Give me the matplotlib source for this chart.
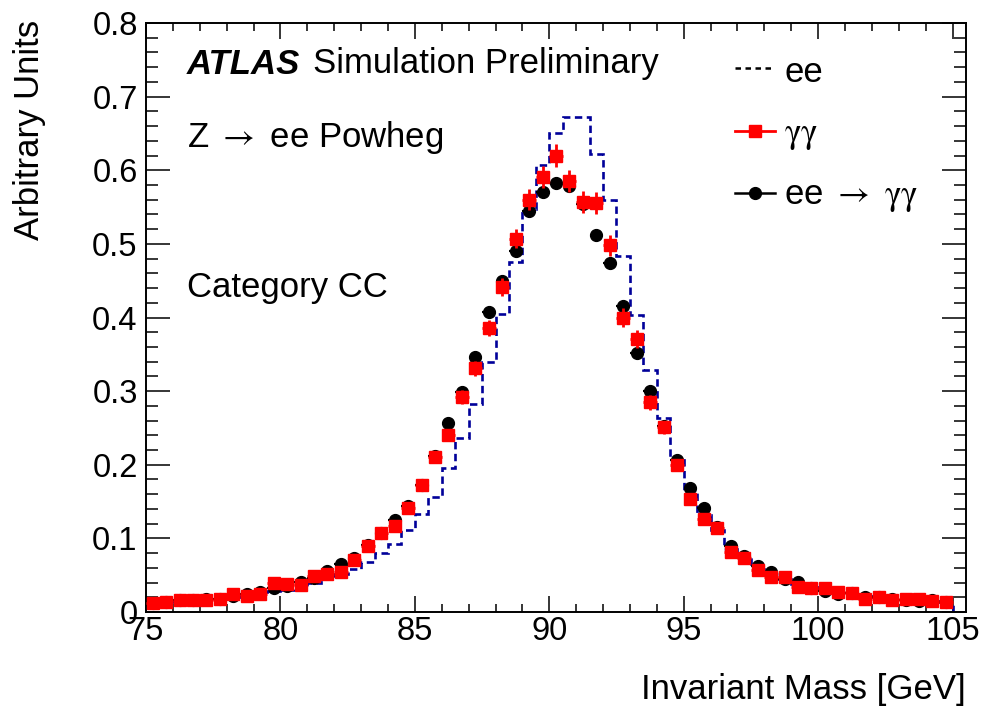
import numpy as np
import matplotlib
matplotlib.use("Agg")
import matplotlib.pyplot as plt
from matplotlib.ticker import MultipleLocator, FuncFormatter
from matplotlib.lines import Line2D

plt.rcParams['font.family'] = ['Liberation Sans', 'DejaVu Sans']
plt.rcParams['mathtext.fontset'] = 'stix'

# ---- data ----
bin_low = 75.0
bin_width = 0.5

ee = [0.012, 0.013, 0.015, 0.016, 0.017, 0.018, 0.021, 0.023, 0.025, 0.028,
      0.030, 0.031, 0.039, 0.046, 0.051, 0.058, 0.068, 0.080, 0.093, 0.112,
      0.133, 0.156, 0.195, 0.236, 0.283, 0.340, 0.405, 0.475, 0.547, 0.607,
      0.650, 0.672, 0.672, 0.622, 0.559, 0.483, 0.404, 0.329, 0.263, 0.209,
      0.166, 0.132, 0.111, 0.086, 0.075, 0.059, 0.051, 0.045, 0.038, 0.034,
      0.031, 0.027, 0.025, 0.022, 0.020, 0.018, 0.017, 0.016, 0.015, 0.013,
      0.0]

gg = [0.012, 0.013, 0.016, 0.016, 0.016, 0.018, 0.0245, 0.022, 0.025, 0.039,
      0.0376, 0.0367, 0.049, 0.051, 0.055, 0.071, 0.090, 0.107, 0.117, 0.141,
      0.172, 0.210, 0.240, 0.292, 0.331, 0.386, 0.441, 0.507, 0.560, 0.591,
      0.620, 0.586, 0.557, 0.555, 0.498, 0.400, 0.371, 0.285, 0.251, 0.200,
      0.153, 0.126, 0.1135, 0.082, 0.074, 0.057, 0.048, 0.048, 0.0335, 0.032,
      0.032, 0.0276, 0.026, 0.0176, 0.020, 0.0163, 0.018, 0.017, 0.0154, 0.0136]

gg_err = [0.002, 0.002, 0.002, 0.002, 0.002, 0.002, 0.003, 0.003, 0.003, 0.003,
          0.003, 0.003, 0.004, 0.004, 0.004, 0.004, 0.005, 0.005, 0.005, 0.006,
          0.007, 0.007, 0.008, 0.009, 0.010, 0.011, 0.012, 0.013, 0.014, 0.015,
          0.016, 0.015, 0.015, 0.015, 0.014, 0.013, 0.012, 0.010, 0.009, 0.008,
          0.007, 0.006, 0.006, 0.005, 0.005, 0.004, 0.004, 0.004, 0.003, 0.003,
          0.003, 0.003, 0.003, 0.002, 0.002, 0.002, 0.002, 0.002, 0.002, 0.002]

eegg = [0.012, 0.013, 0.016, 0.016, 0.017, 0.018, 0.0217, 0.025, 0.0276, 0.032,
        0.035, 0.041, 0.0457, 0.056, 0.065, 0.073, 0.091, 0.107, 0.125, 0.144,
        0.173, 0.212, 0.257, 0.299, 0.346, 0.407, 0.450, 0.491, 0.544, 0.570,
        0.583, 0.579, 0.554, 0.512, 0.474, 0.416, 0.352, 0.300, 0.253, 0.206,
        0.169, 0.141, 0.115, 0.090, 0.076, 0.063, 0.054, 0.045, 0.041, 0.032,
        0.029, 0.025, 0.026, 0.021, 0.020, 0.0176, 0.0163, 0.0154, 0.016, 0.014]

x_ticks = [75, 80, 85, 90, 95, 100, 105]
y_ticks = [0, 0.1, 0.2, 0.3, 0.4, 0.5, 0.6, 0.7, 0.8]

# ---- figure ----
W, H = 984, 712
fig = plt.figure(figsize=(W / 100, H / 100), dpi=100)
ax = fig.add_axes([146 / W, 100 / H, 820 / W, 589 / H])

edges = bin_low + bin_width * np.arange(len(ee) + 1)
centers_pts = bin_low + bin_width * (np.arange(len(gg)) + 0.5)

ax.stairs(ee, edges, baseline=None, color='#000099', lw=1.9,
          linestyle=(0, (2.8, 1.7)), zorder=2)
ax.errorbar(centers_pts, eegg, xerr=bin_width / 2, fmt='o', color='black',
            ms=8.5, elinewidth=1.6, capsize=0, zorder=3)
ax.errorbar(centers_pts, gg, yerr=gg_err, xerr=bin_width / 2, fmt='s',
            color='#ff0000', ms=8.0, elinewidth=2.0, capsize=0, zorder=4)

ax.set_xlim(75, 105.5)
ax.set_ylim(0, 0.8)
ax.set_xticks(x_ticks)
ax.set_yticks(y_ticks)
ax.xaxis.set_minor_locator(MultipleLocator(1))
ax.yaxis.set_minor_locator(MultipleLocator(0.02))
ax.yaxis.set_major_formatter(FuncFormatter(lambda v, p: '0' if abs(v) < 1e-9 else f'{v:.1f}'))
ax.tick_params(which='both', direction='in', top=True, right=True,
               labelsize=23.5, width=1.1)
ax.xaxis.set_tick_params(which='major', length=11.5, pad=3)
ax.xaxis.set_tick_params(which='minor', length=5.8)
ax.yaxis.set_tick_params(which='major', length=17, pad=6)
ax.yaxis.set_tick_params(which='minor', length=8.6)
for s in ax.spines.values():
    s.set_linewidth(1.4)

def fx(px):
    return px / W

def fy(py):
    return 1 - py / H

FS = 25
fig.text(fx(30), fy(20), 'Arbitrary Units', rotation=90, ha='center', va='top', fontsize=FS)
fig.text(fx(966), fy(690), 'Invariant Mass [GeV]', ha='right', va='center', fontsize=FS)

fig.text(fx(187), fy(64), 'ATLAS', fontsize=FS, weight='bold', style='italic', va='center')
fig.text(fx(313), fy(64), 'Simulation Preliminary', fontsize=FS, va='center')
fig.text(fx(187), fy(138), r'Z $\rightarrow$ ee Powheg', fontsize=FS, va='center')
fig.text(fx(187), fy(288), 'Category CC', fontsize=FS, va='center')

# legend (manual)
rows = [
    (68, 'ee', dict(color='black', lw=1.8, ls=(0, (2.2, 1.8)), marker=None)),
    (131, r'$\mathrm{\gamma\gamma}$', dict(color='#ff0000', lw=2.0, ls='-', marker='s', ms=8.0)),
    (193, r'ee $\rightarrow$ $\mathrm{\gamma\gamma}$', dict(color='black', lw=1.8, ls='-', marker='o', ms=8.5)),
]
for py, label, st in rows:
    marker = st.pop('marker')
    ms = st.pop('ms', 0)
    fig.add_artist(Line2D([fx(735), fx(775)], [fy(py), fy(py)], transform=fig.transFigure, **st))
    if marker:
        fig.add_artist(Line2D([fx(755)], [fy(py)], transform=fig.transFigure,
                              marker=marker, ms=ms, color=st['color'], ls='none'))
    fig.text(fx(784), fy(py + 4), label, fontsize=FS, va='center')

fig.savefig('out.png', dpi=100)
